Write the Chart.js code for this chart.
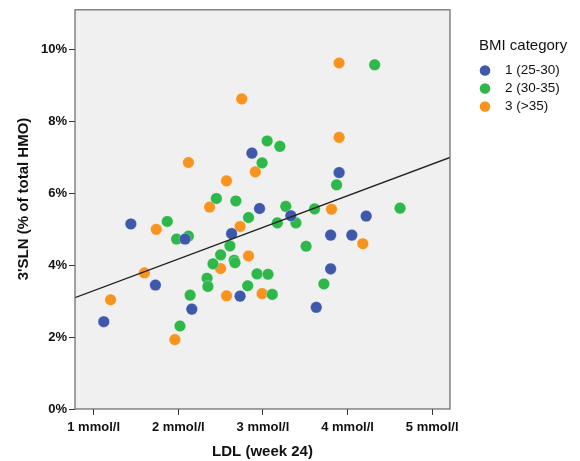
<!DOCTYPE html>
<html>
<head>
<meta charset="utf-8">
<script src="https://cdn.jsdelivr.net/npm/chart.js@4.4.1/dist/chart.umd.min.js"></script>
<style>
  html, body { margin: 0; padding: 0; background: #fff; }
  #wrap { width: 580px; height: 461px; position: relative; }
</style>
</head>
<body>
<div id="wrap"><canvas id="scatter"></canvas></div>
<script>
// LDL (mmol/l) y 3'SLN (% del HMO total) por categoría de IMC
const bmi1LDL = [2.87, 3.90, 2.96, 3.33, 4.22, 1.44, 2.08, 2.63, 3.80, 4.05, 3.80, 1.73, 2.73, 2.16, 3.63, 1.12];
const bmi1SLN = [7.12, 6.58, 5.58, 5.38, 5.37, 5.15, 4.73, 4.88, 4.84, 4.84, 3.90, 3.45, 3.14, 2.78, 2.83, 2.43];

const bmi2LDL = [4.32, 3.05, 3.20, 2.99, 3.87, 2.45, 2.68, 3.27, 3.61, 4.62, 3.39, 3.17, 2.83, 1.87, 1.98, 2.12,
                 2.61, 3.51, 2.50, 2.66, 2.67, 2.41, 2.93, 3.06, 2.34, 2.35, 2.82, 3.72, 2.14, 3.11, 2.02];
const bmi2SLN = [9.58, 7.46, 7.31, 6.85, 6.24, 5.86, 5.79, 5.64, 5.57, 5.59, 5.18, 5.18, 5.33, 5.22, 4.73, 4.81,
                 4.54, 4.53, 4.29, 4.14, 4.07, 4.04, 3.76, 3.75, 3.64, 3.41, 3.43, 3.48, 3.17, 3.19, 2.31];

const bmi3LDL = [3.90, 2.75, 3.90, 2.12, 2.91, 2.57, 2.37, 3.81, 2.73, 1.74, 4.18, 2.83, 2.50, 1.60, 1.20, 2.57, 2.99, 1.96];
const bmi3SLN = [9.63, 8.63, 7.56, 6.86, 6.60, 6.35, 5.62, 5.56, 5.08, 5.00, 4.60, 4.26, 3.91, 3.79, 3.04, 3.15, 3.21, 1.93];

// Recta de ajuste (extremos)
const fitLDL = [0.78, 5.21];
const fitSLN = [3.10, 7.00];

const xTicks = [1, 2, 3, 4, 5];
const yTicks = [0, 2, 4, 6, 8, 10];

const groupLabels = ["1 (25-30)", "2 (30-35)", "3 (>35)"];
const groupColors = ["#3e58ac", "#2fb84a", "#f8931f"];

const FONT = "'Liberation Sans', Arial, sans-serif";

function toPoints(xs, ys) {
    return xs.map((x, i) => ({ x: x, y: ys[i] }));
}

function pointSet(label, xs, ys, color) {
    return {
        type: "scatter",
        label: label,
        data: toPoints(xs, ys),
        backgroundColor: color,
        borderColor: "rgba(255,255,255,0.5)",
        borderWidth: 0.6,
        pointRadius: 5.8,
        pointHoverRadius: 5.8,
    };
}

// Fondo gris y marco del área de trazado
const plotBox = {
    id: "plotBox",
    beforeDatasetsDraw(chart) {
        const { ctx, chartArea: a } = chart;
        ctx.save();
        ctx.fillStyle = "#f0f0f0";
        ctx.fillRect(a.left, a.top, a.right - a.left, a.bottom - a.top);
        ctx.restore();
    },
    afterDatasetsDraw(chart) {
        const { ctx, chartArea: a } = chart;
        ctx.save();
        ctx.strokeStyle = "#666";
        ctx.lineWidth = 1.2;
        ctx.strokeRect(a.left, a.top, a.right - a.left, a.bottom - a.top);
        ctx.restore();
    },
};

// Título del eje Y y leyenda a la derecha
const sideText = {
    id: "sideText",
    afterDraw(chart) {
        const ctx = chart.ctx;
        ctx.save();
        ctx.fillStyle = "#111";
        ctx.textBaseline = "middle";
        ctx.textAlign = "center";
        ctx.translate(24, 199);
        ctx.rotate(-Math.PI / 2);
        ctx.font = "bold 15px " + FONT;
        ctx.fillText("3'SLN (% of total HMO)", 0, 0);
        ctx.restore();

        ctx.save();
        ctx.fillStyle = "#111";
        ctx.textBaseline = "middle";
        ctx.font = "15px " + FONT;
        ctx.fillText("BMI category", 479, 46);
        ctx.font = "13.5px " + FONT;
        groupLabels.forEach((lab, i) => {
            const y = 70.5 + i * 18;
            ctx.beginPath();
            ctx.arc(485, y, 5.3, 0, Math.PI * 2);
            ctx.fillStyle = groupColors[i];
            ctx.fill();
            ctx.fillStyle = "#111";
            ctx.fillText(lab, 505, y);
        });
        ctx.restore();
    },
};

const ctx = document.getElementById("scatter").getContext("2d");

new Chart(ctx, {
    data: {
        datasets: [
            {
                type: "line",
                label: "fit",
                data: toPoints(fitLDL, fitSLN),
                borderColor: "#222",
                borderWidth: 1.3,
                pointRadius: 0,
                fill: false,
            },
            pointSet(groupLabels[0], bmi1LDL, bmi1SLN, groupColors[0]),
            pointSet(groupLabels[1], bmi2LDL, bmi2SLN, groupColors[1]),
            pointSet(groupLabels[2], bmi3LDL, bmi3SLN, groupColors[2]),
        ],
    },
    options: {
        responsive: true,
        maintainAspectRatio: false,
        animation: false,
        layout: { padding: { top: 9, right: 130, left: 0, bottom: 0 } },
        plugins: { legend: { display: false }, tooltip: { enabled: false } },
        scales: {
            x: {
                type: "linear",
                min: 0.78,
                max: 5.21,
                afterBuildTicks: (s) => { s.ticks = xTicks.map(v => ({ value: v })); },
                afterFit: (s) => { s.height = 52; },
                grid: { drawOnChartArea: false, drawTicks: true, tickLength: 6, color: "#333", lineWidth: 1 },
                border: { display: false },
                ticks: {
                    color: "#111",
                    padding: 5,
                    maxRotation: 0,
                    font: { family: FONT, size: 13, weight: "bold" },
                    callback: (v) => v + " mmol/l",
                },
                title: {
                    display: true,
                    text: "LDL (week 24)",
                    color: "#111",
                    padding: { top: 0, bottom: 0 },
                    font: { family: FONT, size: 15, weight: "bold" },
                },
            },
            y: {
                type: "linear",
                min: 0,
                max: 11.11,
                afterBuildTicks: (s) => { s.ticks = yTicks.map(v => ({ value: v })); },
                afterFit: (s) => { s.width = 75; },
                grid: { drawOnChartArea: false, drawTicks: true, tickLength: 6, color: "#333", lineWidth: 1 },
                border: { display: false },
                ticks: {
                    color: "#111",
                    padding: 2,
                    font: { family: FONT, size: 13, weight: "bold" },
                    callback: (v) => v + "%",
                },
            },
        },
    },
    plugins: [plotBox, sideText],
});
</script>
</body>
</html>
